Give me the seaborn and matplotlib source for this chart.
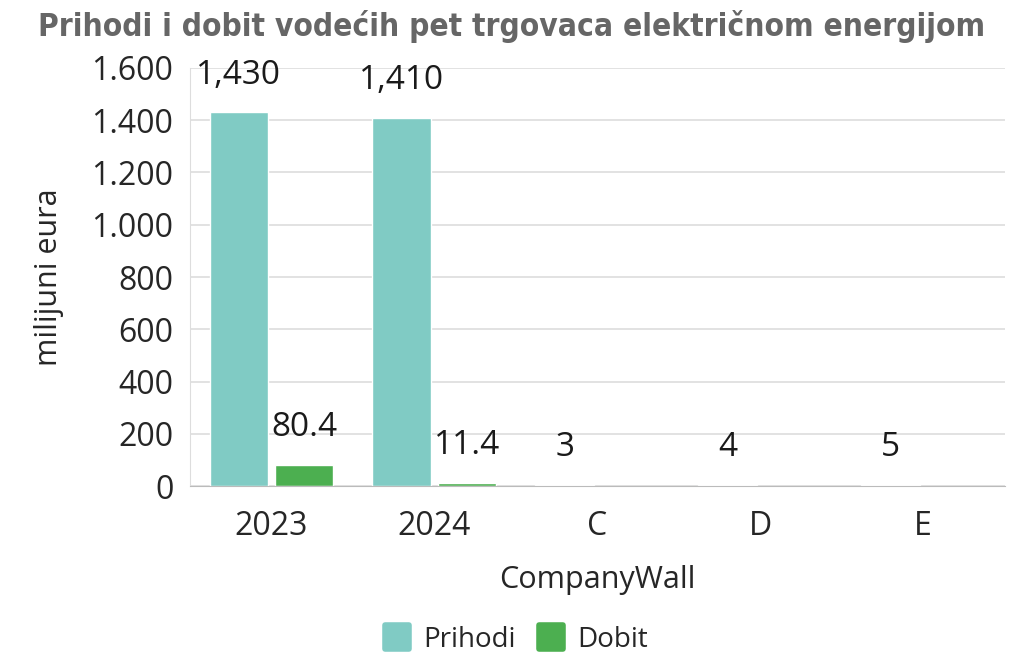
import pandas as pd
import seaborn as sns
import matplotlib.pyplot as plt
from matplotlib.lines import Line2D
from matplotlib.markers import MarkerStyle

# chart data
categories = ['2023', '2024', 'C', 'D', 'E']
prihodi = [1430, 1410, 3, 4, 5]
dobit = [80.4, 11.4, None, None, None]
prihodi_labels = ['1,430', '1,410', '3', '4', '5']
dobit_labels = ['80.4', '11.4', '', '', '']

colors = {'Prihodi': '#80CBC4', 'Dobit': '#4CAF50'}

df = pd.DataFrame({
    'cat': categories * 2,
    'val': prihodi + dobit,
    'serie': ['Prihodi'] * len(categories) + ['Dobit'] * len(categories),
})

sns.set_style('white')
plt.rcParams['font.family'] = ['Open Sans', 'DejaVu Sans']

fig = plt.figure(figsize=(10.24, 6.6), dpi=100)
ax = fig.add_axes([0.1855, 0.2636, 0.7955, 0.6334])

sns.barplot(data=df, x='cat', y='val', hue='serie', palette=colors,
            width=0.8, gap=0.1, ax=ax, legend=False, saturation=1)

# value labels (skip missing bars)
for cont, labs in zip(ax.containers, [prihodi_labels, dobit_labels]):
    for bar, lab in zip(cont, labs):
        if bar is None or not lab:
            continue
        ax.annotate(lab, (bar.get_x() + bar.get_width() / 2, bar.get_height()),
                    xytext=(0, 15), textcoords='offset points',
                    ha='center', va='bottom', fontsize=24, color='#1a1a1a')

ax.set_ylim(0, 1600)
ax.set_xlim(-0.5, 4.5)
ax.set_yticks(range(0, 1601, 200))
ax.set_yticklabels([f'{v:,}'.replace(',', '.') for v in range(0, 1601, 200)])
ax.yaxis.grid(True, color='#dddddd', linewidth=1.2)
ax.set_axisbelow(True)
for s in ['top', 'right']:
    ax.spines[s].set_visible(False)
ax.spines['left'].set_color('#dddddd')
ax.spines['bottom'].set_color('#bbbbbb')
ax.tick_params(axis='y', length=9, color='#dddddd', labelsize=23, pad=3)
ax.tick_params(axis='x', length=0, labelsize=23, pad=17)

ax.set_xlabel('CompanyWall', fontsize=22, labelpad=16)
ax.set_ylabel('milijuni eura', fontsize=22, labelpad=20)

fig.suptitle('Prihodi i dobit vodećih pet trgovaca električnom energijom',
             x=0.5, y=0.985, fontsize=22.7, fontweight='bold', color='#666666',
             fontstretch='condensed', family=['DejaVu Sans'])

box = MarkerStyle('s', joinstyle='round')
handles = [Line2D([], [], marker=box, linestyle='', markersize=17, markeredgewidth=4,
                  markerfacecolor=colors[k], markeredgecolor=colors[k])
           for k in ['Prihodi', 'Dobit']]
fig.legend(handles, ['Prihodi', 'Dobit'], loc='center', bbox_to_anchor=(0.5, 0.03),
           ncol=2, frameon=False, fontsize=20, handletextpad=0.2, columnspacing=0.5,
           handlelength=1.5)

fig.savefig('out.png', dpi=100)
